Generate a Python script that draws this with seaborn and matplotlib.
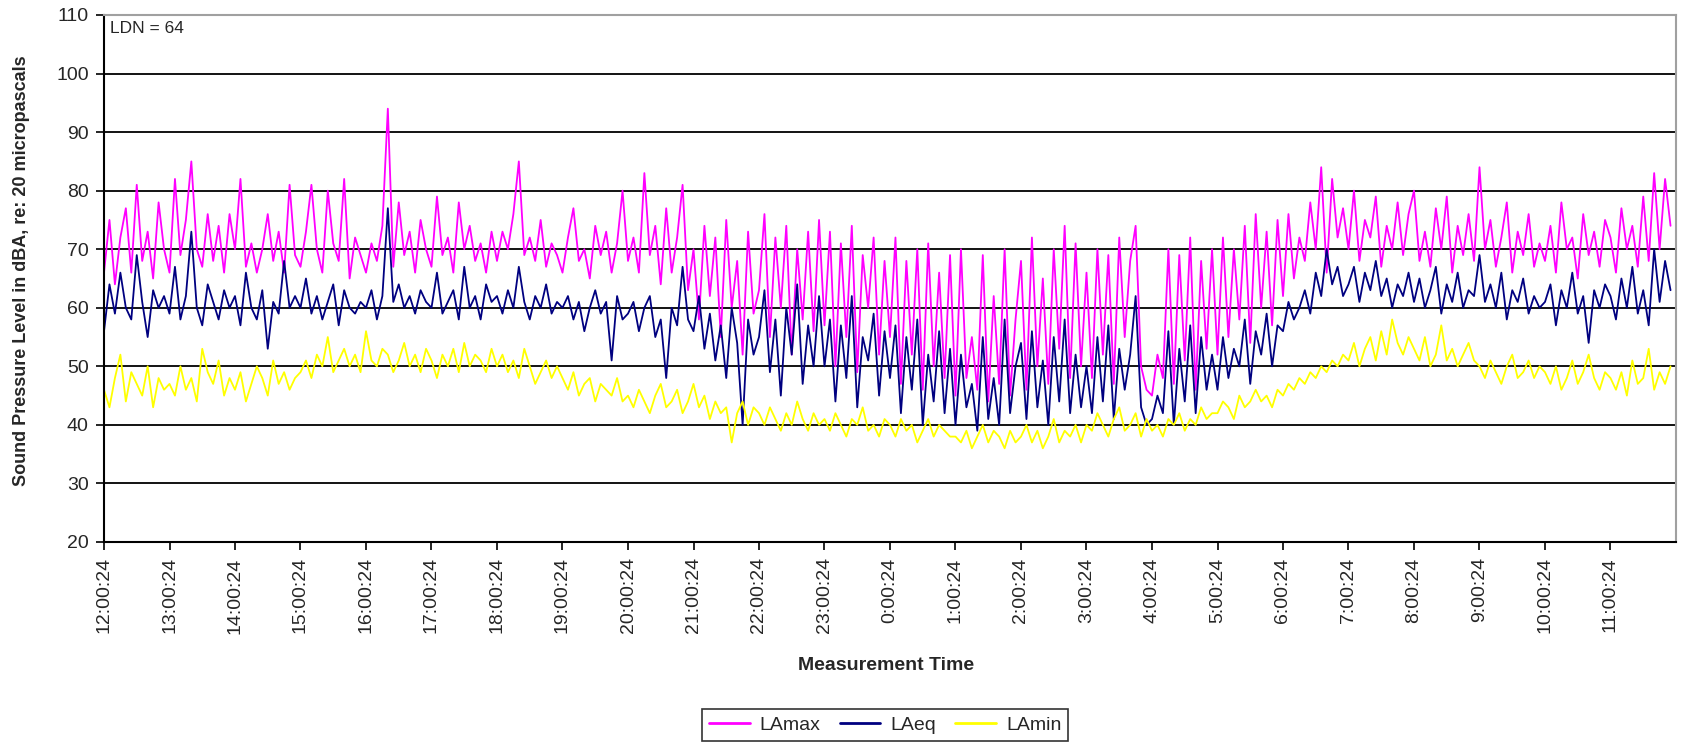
import numpy as np
import pandas as pd
import matplotlib
matplotlib.use("Agg")
import matplotlib.pyplot as plt
from matplotlib.lines import Line2D
import seaborn as sns

# 5-minute samples, 12 per hour, starting 12:00:24
step_minutes = 5

lamax = [
    66, 75, 64, 72, 77, 66, 81, 68, 73, 65, 78, 70,   # 12
    66, 82, 69, 75, 85, 70, 67, 76, 68, 74, 66, 76,   # 13
    70, 82, 67, 71, 66, 70, 76, 68, 73, 66, 81, 69,   # 14
    67, 73, 81, 70, 66, 80, 71, 68, 82, 65, 72, 69,   # 15
    66, 71, 68, 74, 94, 67, 78, 69, 73, 66, 75, 70,   # 16
    67, 79, 69, 72, 66, 78, 70, 74, 68, 71, 66, 73,   # 17
    68, 73, 70, 76, 85, 69, 72, 68, 75, 67, 71, 69,   # 18
    66, 72, 77, 68, 70, 65, 74, 69, 73, 66, 71, 80,   # 19
    68, 72, 66, 83, 69, 74, 64, 77, 66, 72, 81, 63,   # 20
    70, 58, 74, 62, 72, 55, 75, 60, 68, 52, 73, 59,   # 21
    63, 76, 55, 72, 60, 74, 52, 70, 58, 73, 56, 75,   # 22
    57, 73, 50, 71, 55, 74, 49, 69, 60, 72, 52, 68,   # 23
    55, 72, 47, 68, 52, 70, 46, 71, 50, 66, 48, 69,   # 0
    45, 70, 48, 55, 46, 69, 44, 62, 47, 70, 45, 58,   # 1
    68, 46, 72, 50, 65, 47, 70, 53, 74, 48, 71, 50,   # 2
    66, 48, 70, 52, 69, 47, 72, 55, 68, 74, 50, 46,   # 3
    45, 52, 48, 70, 47, 69, 51, 72, 46, 68, 53, 70,   # 4
    52, 72, 55, 70, 58, 74, 54, 76, 60, 73, 57, 75,   # 5
    62, 76, 65, 72, 68, 78, 70, 84, 66, 82, 72, 77,   # 6
    70, 80, 68, 75, 72, 79, 67, 74, 70, 78, 69, 76,   # 7
    80, 68, 73, 67, 77, 70, 79, 66, 74, 69, 76, 68,   # 8
    84, 70, 75, 67, 72, 78, 66, 73, 69, 76, 67, 71,   # 9
    68, 74, 66, 78, 70, 72, 65, 76, 69, 73, 67, 75,   # 10
    72, 66, 77, 70, 74, 67, 79, 68, 83, 70, 82, 74,   # 11
]

laeq = [
    56, 64, 59, 66, 60, 58, 69, 61, 55, 63, 60, 62,
    59, 67, 58, 62, 73, 60, 57, 64, 61, 58, 63, 60,
    62, 57, 66, 60, 58, 63, 53, 61, 59, 68, 60, 62,
    60, 65, 59, 62, 58, 61, 64, 57, 63, 60, 59, 61,
    60, 63, 58, 62, 77, 61, 64, 60, 62, 59, 63, 61,
    60, 66, 59, 61, 63, 58, 67, 60, 62, 58, 64, 61,
    62, 59, 63, 60, 67, 61, 58, 62, 60, 64, 59, 61,
    60, 62, 58, 61, 56, 60, 63, 59, 61, 51, 62, 58,
    59, 61, 56, 60, 62, 55, 58, 48, 60, 57, 67, 58,
    56, 62, 53, 59, 51, 57, 48, 60, 54, 40, 58, 52,
    55, 63, 49, 58, 45, 60, 52, 64, 47, 57, 50, 62,
    50, 58, 44, 57, 48, 62, 43, 55, 51, 59, 45, 56,
    48, 57, 42, 55, 46, 58, 40, 52, 44, 56, 42, 53,
    40, 52, 43, 47, 39, 55, 41, 48, 40, 58, 42, 50,
    54, 41, 56, 43, 51, 40, 55, 44, 58, 42, 52, 43,
    50, 42, 55, 44, 57, 41, 53, 46, 52, 62, 43, 40,
    41, 45, 42, 56, 40, 53, 44, 57, 42, 55, 46, 52,
    46, 55, 48, 53, 50, 58, 47, 56, 52, 59, 50, 57,
    56, 61, 58, 60, 63, 59, 66, 62, 70, 64, 67, 62,
    64, 67, 61, 66, 63, 68, 62, 65, 60, 64, 62, 66,
    61, 65, 60, 63, 67, 59, 64, 61, 66, 60, 63, 62,
    69, 61, 64, 60, 66, 58, 63, 61, 65, 59, 62, 60,
    61, 64, 57, 63, 60, 66, 59, 62, 54, 63, 60, 64,
    62, 58, 65, 60, 67, 59, 63, 57, 70, 61, 68, 63,
]

lamin = [
    46, 43, 48, 52, 44, 49, 47, 45, 50, 43, 48, 46,
    47, 45, 50, 46, 48, 44, 53, 49, 47, 51, 45, 48,
    46, 49, 44, 47, 50, 48, 45, 51, 47, 49, 46, 48,
    49, 51, 48, 52, 50, 55, 49, 51, 53, 50, 52, 49,
    56, 51, 50, 53, 52, 49, 51, 54, 50, 52, 49, 53,
    51, 48, 52, 50, 53, 49, 54, 50, 52, 51, 49, 53,
    50, 52, 49, 51, 48, 53, 50, 47, 49, 51, 48, 50,
    48, 46, 49, 45, 47, 48, 44, 47, 46, 45, 48, 44,
    45, 43, 46, 44, 42, 45, 47, 43, 44, 46, 42, 44,
    47, 43, 45, 41, 44, 42, 43, 37, 42, 44, 40, 43,
    42, 40, 43, 41, 39, 42, 40, 44, 41, 39, 42, 40,
    41, 39, 42, 40, 38, 41, 40, 43, 39, 40, 38, 41,
    40, 38, 41, 39, 40, 37, 39, 41, 38, 40, 39, 38,
    38, 37, 39, 36, 38, 40, 37, 39, 38, 36, 39, 37,
    38, 40, 37, 39, 36, 38, 41, 37, 39, 38, 40, 37,
    40, 39, 42, 40, 38, 41, 43, 39, 40, 42, 38, 41,
    39, 40, 38, 41, 40, 42, 39, 41, 40, 43, 41, 42,
    42, 44, 43, 41, 45, 43, 44, 46, 44, 45, 43, 46,
    45, 47, 46, 48, 47, 49, 48, 50, 49, 51, 50, 52,
    51, 54, 50, 53, 55, 51, 56, 52, 58, 54, 52, 55,
    53, 51, 55, 50, 52, 57, 51, 53, 50, 52, 54, 51,
    50, 48, 51, 49, 47, 50, 52, 48, 49, 51, 48, 50,
    49, 47, 50, 46, 48, 51, 47, 49, 52, 48, 46, 49,
    48, 46, 49, 45, 51, 47, 48, 53, 46, 49, 47, 50,
]

tick_labels = [
    "12:00:24", "13:00:24", "14:00:24", "15:00:24", "16:00:24", "17:00:24",
    "18:00:24", "19:00:24", "20:00:24", "21:00:24", "22:00:24", "23:00:24",
    "0:00:24", "1:00:24", "2:00:24", "3:00:24", "4:00:24", "5:00:24",
    "6:00:24", "7:00:24", "8:00:24", "9:00:24", "10:00:24", "11:00:24",
]
series_names = ["LAmax", "LAeq", "LAmin"]
series_colors = ["#FF00FF", "#000080", "#FFFF00"]
y_ticks = [20, 30, 40, 50, 60, 70, 80, 90, 100, 110]

n = len(lamax)
t = np.arange(n) * step_minutes
df = pd.DataFrame({
    "t": np.tile(t, 3),
    "value": lamax + laeq + lamin,
    "series": np.repeat(series_names, n),
})

sns.set_style("white")
plt.rcParams["font.family"] = ["Liberation Sans", "DejaVu Sans"]

W, H = 1683, 745
fig = plt.figure(figsize=(W / 100, H / 100), dpi=100)
L, R, T, B = 104, 1676, 15, 542
ax = fig.add_axes([L / W, 1 - B / H, (R - L) / W, (B - T) / H])

sns.lineplot(data=df, x="t", y="value", hue="series", hue_order=series_names,
             palette=dict(zip(series_names, series_colors)), linewidth=1.3,
             estimator=None, sort=False, legend=False, ax=ax)

ax.set_xlim(0, 24 * 60)
ax.set_ylim(20, 110)
ax.set_yticks(y_ticks)
ax.set_yticklabels([str(v) for v in y_ticks], fontsize=14)
ax.set_xticks(np.arange(len(tick_labels)) * 60)
ax.set_xticklabels(tick_labels, rotation=90, fontsize=14, va="top", ha="center")
ax.tick_params(axis="both", which="both", direction="out", length=6, width=1.2,
               color="black", left=True, bottom=True, pad=5)
ax.yaxis.grid(True, color="black", linewidth=1.3)
ax.xaxis.grid(False)
ax.set_axisbelow(True)
for side in ["left", "bottom"]:
    ax.spines[side].set_color("black")
    ax.spines[side].set_linewidth(1.5)
for side in ["top", "right"]:
    ax.spines[side].set_color("#a0a0a0")
    ax.spines[side].set_linewidth(1.5)
ax.set_xlabel("")
ax.set_ylabel("")

fig.text(22 / W, 1 - 271 / H, "Sound Pressure Level in dBA, re: 20 micropascals",
         rotation=90, ha="center", va="center", fontsize=13, fontweight="bold")
fig.text(886 / W, 1 - 666 / H, "Measurement Time", ha="center", va="center",
         fontsize=14, fontweight="bold")
ax.text(0.004, 0.988, "LDN = 64", transform=ax.transAxes, ha="left", va="top",
        fontsize=12.5)

handles = [Line2D([0], [0], color=c, linewidth=2.0) for c in series_colors]
leg = fig.legend(handles, series_names, loc="center", bbox_to_anchor=(885 / W, 1 - 725 / H),
                 ncol=3, fontsize=14, frameon=True, fancybox=False, edgecolor="black",
                 handlelength=2.1, handletextpad=0.5, columnspacing=1.0,
                 borderpad=0.35)
leg.get_frame().set_linewidth(1.2)

fig.savefig("out.png", dpi=100)
